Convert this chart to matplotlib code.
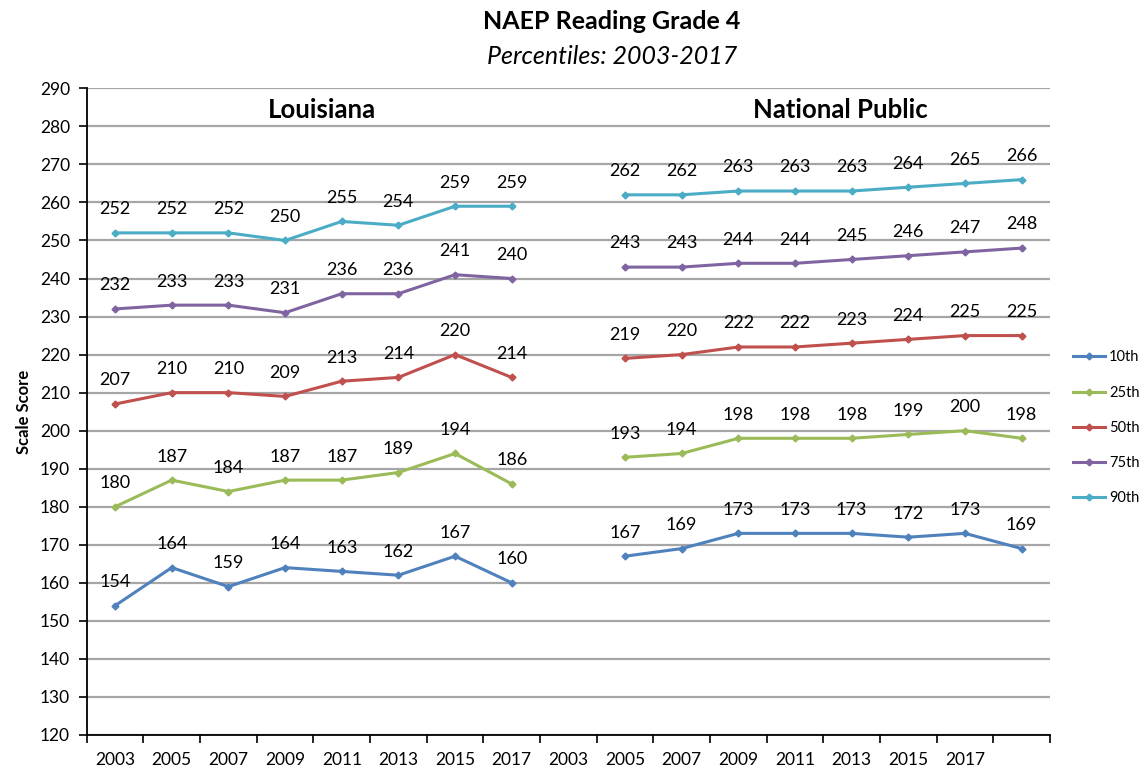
import matplotlib.pyplot as plt
from matplotlib.ticker import FixedLocator, MultipleLocator

plt.rcParams['font.family'] = ['Lato', 'DejaVu Sans']

# category slots on the x axis (Excel-style: labels sit between tick marks)
tick_labels = ["2003", "2005", "2007", "2009", "2011", "2013", "2015", "2017",
               "2003", "2005", "2007", "2009", "2011", "2013", "2015", "2017", ""]
la_slots = [0, 1, 2, 3, 4, 5, 6, 7]
np_slots = [9, 10, 11, 12, 13, 14, 15, 16]

percentiles = ["10th", "25th", "50th", "75th", "90th"]

la_10 = [154, 164, 159, 164, 163, 162, 167, 160]
la_25 = [180, 187, 184, 187, 187, 189, 194, 186]
la_50 = [207, 210, 210, 209, 213, 214, 220, 214]
la_75 = [232, 233, 233, 231, 236, 236, 241, 240]
la_90 = [252, 252, 252, 250, 255, 254, 259, 259]

np_10 = [167, 169, 173, 173, 173, 172, 173, 169]
np_25 = [193, 194, 198, 198, 198, 199, 200, 198]
np_50 = [219, 220, 222, 222, 223, 224, 225, 225]
np_75 = [243, 243, 244, 244, 245, 246, 247, 248]
np_90 = [262, 262, 263, 263, 263, 264, 265, 266]

la_series = [la_10, la_25, la_50, la_75, la_90]
np_series = [np_10, np_25, np_50, np_75, np_90]
cores = ["#4F81BD", "#9BBB59", "#C0504D", "#8064A2", "#4BACC6"]

fig = plt.figure(figsize=(11.46, 7.68), dpi=100)
ax = fig.add_axes([0.0757, 0.043, 0.8405, 0.842])

for nome, cor, la, nat in zip(percentiles, cores, la_series, np_series):
    ax.plot(la_slots, la, color=cor, linewidth=2.2, marker="D", markersize=3.5,
            label=nome)
    ax.plot(np_slots, nat, color=cor, linewidth=2.2, marker="D", markersize=3.5)
    for x, y in list(zip(la_slots, la)) + list(zip(np_slots, nat)):
        ax.annotate(str(y), (x, y), xytext=(0, 17), textcoords="offset points",
                    ha="center", va="center", fontsize=13, color="black")

ax.set_ylim(120, 290)
ax.set_xlim(-0.5, len(tick_labels) - 0.5)
ax.yaxis.set_major_locator(MultipleLocator(10))
ax.grid(True, axis="y", color="#A6A6A6", linewidth=1.6)
ax.set_axisbelow(True)

# tick marks at slot boundaries, labels at slot centres
ax.xaxis.set_major_locator(FixedLocator([i - 0.5 for i in range(len(tick_labels) + 1)]))
ax.set_xticklabels([])
ax.xaxis.set_minor_locator(FixedLocator(list(range(len(tick_labels)))))
ax.set_xticklabels(tick_labels, minor=True)
ax.tick_params(axis="x", which="major", direction="out", length=6, width=1.2)
ax.tick_params(axis="x", which="minor", length=0, pad=12, labelsize=12.5)
ax.tick_params(axis="y", direction="out", length=6, width=1.2, labelsize=12.5, pad=6)

for lado in ["top", "right"]:
    ax.spines[lado].set_visible(False)
for lado in ["left", "bottom"]:
    ax.spines[lado].set_linewidth(1.3)

ax.set_ylabel("Scale Score", fontsize=12, fontweight="bold", labelpad=6)

ax.text(3.65, 284.2, "Louisiana", ha="center", va="center", fontsize=18.5, fontweight="bold")
ax.text(12.8, 284.2, "National Public", ha="center", va="center", fontsize=18.5, fontweight="bold")

fig.text(0.534, 0.972, "NAEP Reading Grade 4", ha="center", va="center",
         fontsize=18, fontweight="bold")
fig.text(0.534, 0.926, "Percentiles: 2003-2017", ha="center", va="center",
         fontsize=18, style="italic")

fig.legend(loc="center left", bbox_to_anchor=(0.936, 0.443), frameon=False,
           fontsize=10.5, handlelength=2.2, labelspacing=1.45, handletextpad=0.3,
           borderpad=0, borderaxespad=0)

fig.savefig("out.png", dpi=100)
